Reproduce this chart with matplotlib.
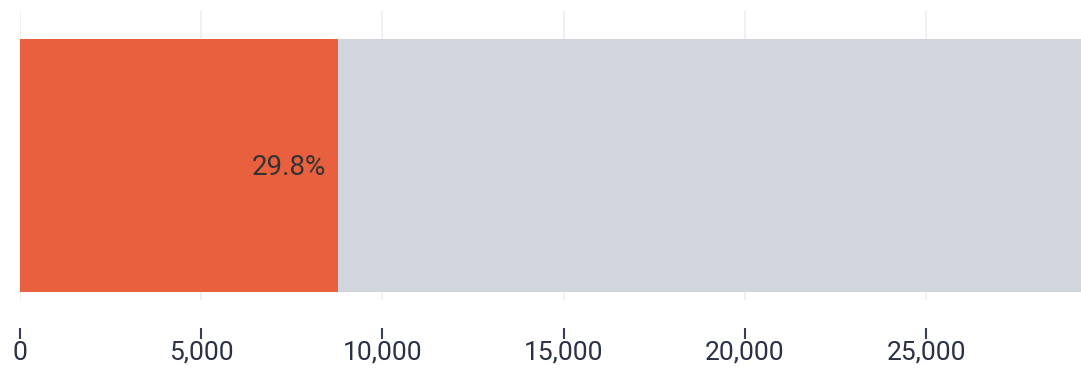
import matplotlib
matplotlib.use("Agg")
import matplotlib.pyplot as plt
from matplotlib.ticker import FuncFormatter

# data
categories = ["share"]
highlight = [8780]
remainder = [20700]
pct_labels = ["29.8%"]
ticks = [0, 5000, 10000, 15000, 20000, 25000]

plt.rcParams['font.family'] = ['Roboto', 'DejaVu Sans']

fig = plt.figure(figsize=(10.81, 3.68), dpi=100)
ax = fig.add_axes([20 / 1081, 68 / 368, 1 - 20 / 1081, 289 / 368])

y = [0.0277]
h = 0.8755
ax.barh(y, highlight, height=h, align='edge', color='#E9603E', zorder=2)
ax.barh(y, remainder, left=highlight, height=h, align='edge', color='#D1D5DE', zorder=2)

for yy, v, lab in zip(y, highlight, pct_labels):
    ax.text(v - 330, yy + h / 2 - 0.008, lab, ha='right', va='center',
            fontsize=20, color='#333333', zorder=3)

ax.set_ylim(0, 1)
ax.set_xlim(0, 29270)
ax.set_yticks([])
ax.set_xticks(ticks)
ax.xaxis.set_major_formatter(FuncFormatter(lambda v, p: f"{int(v):,}"))
ax.grid(axis='x', color='#EEEEEE', linewidth=1.2, zorder=0)

for s in ax.spines.values():
    s.set_visible(False)
ax.spines['bottom'].set_position(('outward', 20))
ax.tick_params(axis='x', length=8, width=1.5, color='#3A3F52',
               labelsize=19, labelcolor='#2B3047', pad=1.5)

fig.savefig("out.png", dpi=100)
